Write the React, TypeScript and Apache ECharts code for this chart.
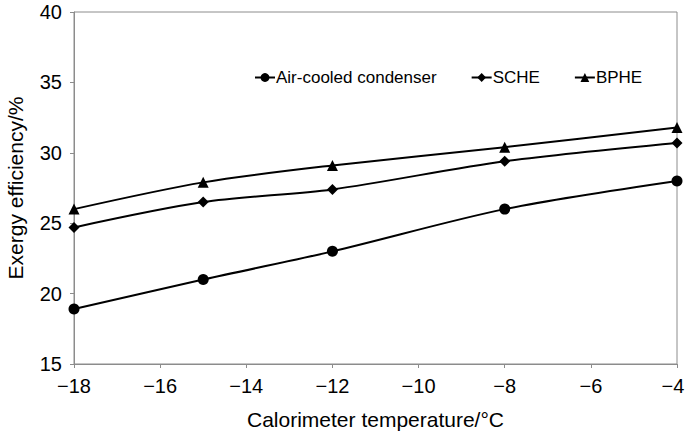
import React, { useEffect, useRef } from "react";
import * as echarts from "echarts";

const temperatures = [-18, -15, -12, -8, -4];
const airCooled = [18.9, 21.0, 23.0, 26.0, 28.0];
const sche = [24.7, 26.5, 27.4, 29.4, 30.7];
const bphe = [26.0, 27.9, 29.1, 30.4, 31.8];
const seriesNames = ["Air-cooled condenser", "SCHE", "BPHE"];

const FONT = "'Liberation Sans', Arial, Helvetica, sans-serif";
const X_MAX = -4;

const toPairs = (vals: number[]) => temperatures.map((t, i) => [t, vals[i]]);
const fmtMinus = (v: number) => {
  const s = String(v).replace("-", "\u2212");
  return v === X_MAX ? `{r|${s}}` : s;
};

export default function App() {
  const ref = useRef<HTMLDivElement>(null);
  useEffect(() => {
    if (!ref.current) return;
    const chart = echarts.init(ref.current, null, { renderer: "svg" });
    const mk = (name: string, data: number[], symbol: string, size: number) => ({
      name,
      type: "line",
      data: toPairs(data),
      smooth: 0.3,
      symbol,
      symbolSize: size,
      lineStyle: { color: "#000", width: 2 },
      itemStyle: { color: "#000" },
    });
    chart.setOption({
      animation: false,
      backgroundColor: "#fff",
      textStyle: { fontFamily: FONT },
      grid: {
        left: 74,
        right: 8,
        top: 12,
        bottom: 68,
        show: true,
        borderColor: "#8c8c8c",
        borderWidth: 1,
        outerBoundsMode: "none",
        containLabel: false,
      },
      legend: {
        top: 64,
        left: 249,
        itemGap: 34,
        itemWidth: 20,
        itemHeight: 11,
        textStyle: { fontSize: 17, color: "#000", fontFamily: FONT, padding: [0, 0, 0, -4] },
        data: seriesNames,
      },
      xAxis: {
        type: "value",
        min: -18,
        max: X_MAX,
        interval: 2,
        name: "Calorimeter temperature/\u00b0C",
        nameLocation: "middle",
        nameGap: 45,
        nameTextStyle: { fontSize: 21, color: "#000", fontFamily: FONT },
        axisLine: { show: true, lineStyle: { color: "#8c8c8c", width: 1 } },
        axisTick: { show: true, length: 4, lineStyle: { color: "#8c8c8c" } },
        axisLabel: {
          fontSize: 20,
          color: "#000",
          margin: 12,
          formatter: fmtMinus,
          fontFamily: FONT,
          rich: { r: { fontSize: 20, color: "#000", fontFamily: FONT, padding: [0, 8, 0, 0] } },
        },
        splitLine: { show: false },
      },
      yAxis: {
        type: "value",
        min: 15,
        max: 40,
        interval: 5,
        name: "Exergy efficiency/%",
        nameLocation: "middle",
        nameGap: 48,
        nameTextStyle: { fontSize: 21, color: "#000", fontFamily: FONT },
        axisLine: { show: true, lineStyle: { color: "#8c8c8c", width: 1 } },
        axisTick: { show: true, length: 4, lineStyle: { color: "#8c8c8c" } },
        axisLabel: { fontSize: 20, color: "#000", margin: 12, fontFamily: FONT },
        splitLine: { show: false },
      },
      series: [
        mk(seriesNames[0], airCooled, "circle", 11),
        mk(seriesNames[1], sche, "diamond", 11),
        mk(seriesNames[2], bphe, "triangle", 11),
      ],
    });
    return () => chart.dispose();
  }, []);
  return <div ref={ref} style={{ width: 685, height: 432, position: "absolute", left: 0, top: 0 }} />;
}
